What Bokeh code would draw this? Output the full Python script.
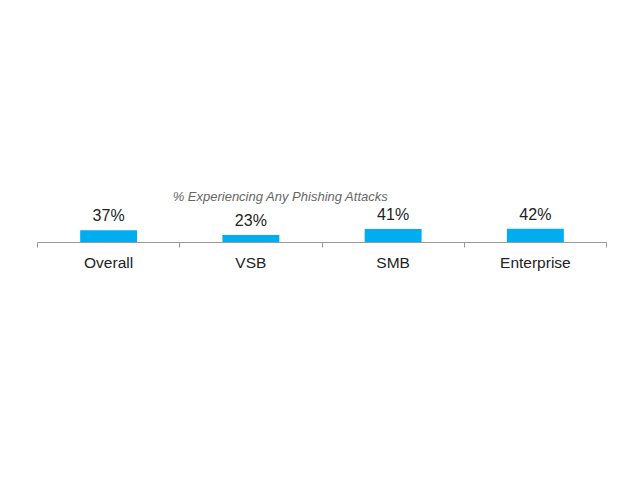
from bokeh.plotting import figure
from bokeh.models import ColumnDataSource, FixedTicker, Range1d, Label, LabelSet
from bokeh.core.properties import value
from bokeh.embed import file_html
from bokeh.resources import INLINE

categories = ["Overall", "VSB", "SMB", "Enterprise"]
values = [37, 23, 41, 42]
value_labels = ["37%", "23%", "41%", "42%"]
chart_title = "% Experiencing Any Phishing Attacks"

centers = [i + 0.5 for i in range(len(categories))]
source = ColumnDataSource(dict(x=centers, top=values, label=value_labels))

p = figure(width=640, height=480, output_backend="svg", toolbar_location=None,
           x_range=Range1d(0, len(categories)), y_range=Range1d(0, 733),
           min_border_left=37, min_border_right=34, min_border_top=0, min_border_bottom=238)
p.outline_line_color = None
p.background_fill_color = "white"
p.border_fill_color = "white"
p.xgrid.visible = False
p.ygrid.visible = False
p.yaxis.visible = False

p.vbar(x="x", top="top", bottom=0, width=0.4, source=source, color="#00AEEF", line_color=None)

labels = LabelSet(x="x", y="top", text="label", source=source, text_align="center",
                  text_baseline="bottom", y_offset=6, text_font_size="16px",
                  text_font=value("Liberation Sans"), text_color="#222222")
p.add_layout(labels)

ax = p.xaxis[0]
ax.ticker = FixedTicker(ticks=centers, minor_ticks=list(range(len(categories) + 1)))
ax.major_label_overrides = {c: name for c, name in zip(centers, categories)}
ax.major_tick_line_color = None
ax.major_tick_out = 0
ax.major_tick_in = 0
ax.minor_tick_out = 5
ax.minor_tick_in = 0
ax.minor_tick_line_color = "#999999"
ax.axis_line_color = "#999999"
ax.axis_line_width = 1
ax.major_label_standoff = 6
ax.major_label_text_font = "Liberation Sans"
ax.major_label_text_font_size = "15.5px"
ax.major_label_text_color = "#222222"

title = Label(x=0.95, y=140, text=chart_title, text_font="Liberation Sans",
              text_font_style="italic", text_font_size="13px", text_color="#666666",
              text_baseline="middle")
p.add_layout(title)

open("out.html", "w").write(file_html(p, INLINE))
